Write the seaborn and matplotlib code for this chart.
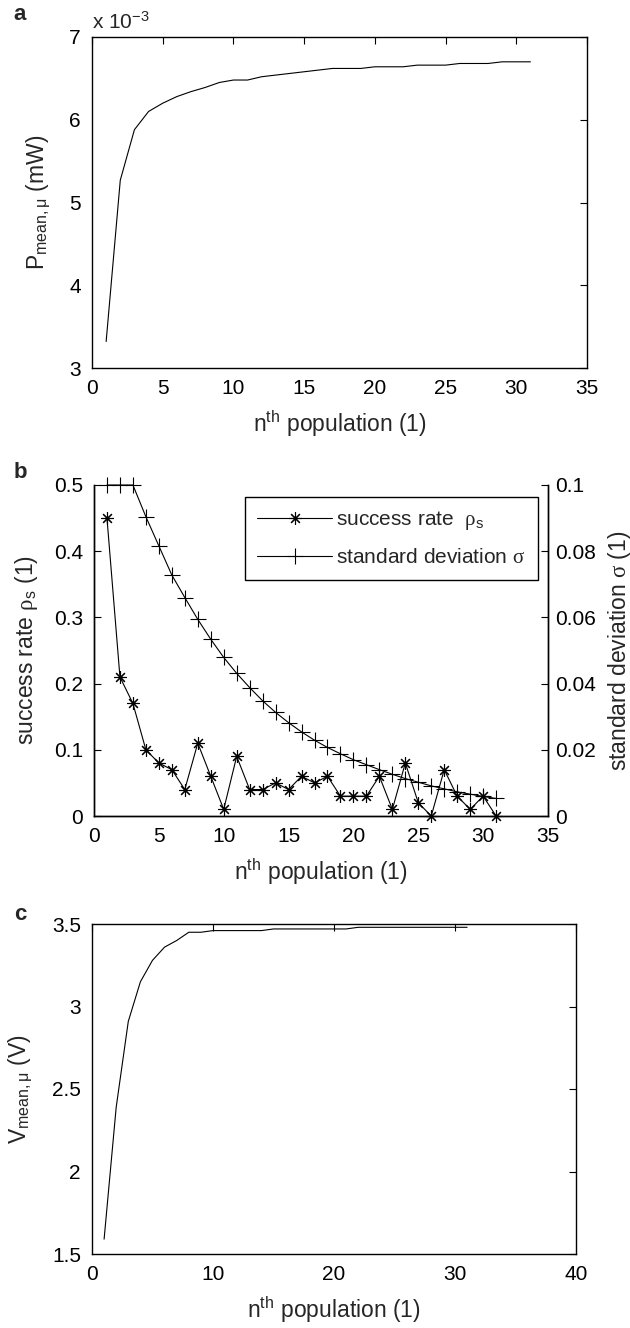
import matplotlib
matplotlib.use("Agg")
import matplotlib.pyplot as plt
import matplotlib.ticker as mticker
import seaborn as sns

# ── Data ─────────────────────────────────────────────────────────────────────
generation = list(range(1, 32))

# panel a: mean power, in units of 1e-3 mW
p_mean = [3.32, 5.27, 5.88, 6.10, 6.20, 6.28, 6.34, 6.39, 6.45, 6.48,
          6.48, 6.52, 6.54, 6.56, 6.58, 6.60, 6.62, 6.62, 6.62, 6.64,
          6.64, 6.64, 6.66, 6.66, 6.66, 6.68, 6.68, 6.68, 6.70, 6.70, 6.70]

# panel b: success rate (left axis) and standard deviation (right axis)
success_rate = [0.45, 0.21, 0.17, 0.10, 0.08, 0.07, 0.04, 0.11, 0.06, 0.01,
                0.09, 0.04, 0.04, 0.05, 0.04, 0.06, 0.05, 0.06, 0.03, 0.03,
                0.03, 0.06, 0.01, 0.08, 0.02, 0.00, 0.07, 0.03, 0.01, 0.03, 0.00]
std_dev = [0.100, 0.100, 0.100, 0.0904, 0.0816, 0.0728, 0.0660, 0.0594, 0.0534, 0.0479,
           0.0431, 0.0388, 0.0348, 0.0313, 0.0282, 0.0254, 0.0229, 0.0207, 0.0188, 0.0170,
           0.0155, 0.0140, 0.0126, 0.0113, 0.0102, 0.0091, 0.0082, 0.0073, 0.0066, 0.0059, 0.0053]

# panel c: mean voltage (V)
v_mean = [1.59, 2.39, 2.91, 3.15, 3.28, 3.36, 3.40, 3.45, 3.45, 3.46,
          3.46, 3.46, 3.46, 3.46, 3.47, 3.47, 3.47, 3.47, 3.47, 3.47,
          3.47, 3.48, 3.48, 3.48, 3.48, 3.48, 3.48, 3.48, 3.48, 3.48, 3.48]

XLABEL = r"n$^{\mathregular{th}}$ population (1)"

# ── Style ────────────────────────────────────────────────────────────────────
sns.set_theme(style="white")
plt.rcParams["font.family"] = ["Liberation Sans", "DejaVu Sans"]
plt.rcParams["mathtext.fontset"] = "custom"
plt.rcParams["mathtext.rm"] = "Liberation Sans"
plt.rcParams["mathtext.it"] = "Liberation Sans:italic"
plt.rcParams["mathtext.sf"] = "Liberation Serif"
plt.rcParams["axes.edgecolor"] = "black"
plt.rcParams["axes.linewidth"] = 1.0

TICK_FS = 15
LABEL_FS = 16.5
LINE_KW = dict(color="black", linewidth=0.8)
W, H = 630, 1328


def rect(left, top, right, bottom):
    return [left / W, 1 - bottom / H, (right - left) / W, (bottom - top) / H]


def style_box(ax):
    ax.tick_params(direction="in", length=5, width=0.8, top=True, right=True,
                   labelsize=TICK_FS, pad=8, colors="black")
    ax.yaxis.set_major_formatter(mticker.FormatStrFormatter("%g"))
    ax.xaxis.set_major_formatter(mticker.FormatStrFormatter("%g"))


fig = plt.figure(figsize=(W / 100, H / 100), dpi=100)

# ── Panel a ──────────────────────────────────────────────────────────────────
ax_a = fig.add_axes(rect(92, 37, 587, 368))
sns.lineplot(x=generation, y=p_mean, ax=ax_a, **LINE_KW)
ax_a.set_xlim(0, 35)
ax_a.set_ylim(3, 7)
ax_a.set_xticks(range(0, 36, 5))
ax_a.set_yticks(range(3, 8))
style_box(ax_a)
ax_a.set_xlabel(XLABEL, fontsize=LABEL_FS, labelpad=7)
ax_a.set_ylabel(r"P$_{\mathregular{mean,\mu}}$ (mW)", fontsize=LABEL_FS, labelpad=12)
ax_a.text(0, 1.012, r"x 10$^{\mathregular{-3}}$", transform=ax_a.transAxes,
          fontsize=TICK_FS, va="bottom", ha="left")

# ── Panel b ──────────────────────────────────────────────────────────────────
ax_b = fig.add_axes(rect(94, 485, 548, 816))
ax_b2 = ax_b.twinx()
sns.lineplot(x=generation, y=success_rate, ax=ax_b, marker=(8, 2, 0), markersize=9,
             markeredgecolor="black", markeredgewidth=0.8, clip_on=False,
             label=r"success rate  $\mathsf{\rho}_{\mathregular{s}}$", legend=False, **LINE_KW)
sns.lineplot(x=generation, y=std_dev, ax=ax_b2, marker="+", markersize=11,
             markeredgecolor="black", markeredgewidth=0.8, clip_on=False,
             label=r"standard deviation $\mathsf{\sigma}$", legend=False, **LINE_KW)
ax_b.set_xlim(0, 35)
ax_b.set_ylim(0, 0.5)
ax_b2.set_ylim(0, 0.1)
ax_b.set_xticks(range(0, 36, 5))
ax_b.set_yticks([0, 0.1, 0.2, 0.3, 0.4, 0.5])
ax_b2.set_yticks([0, 0.02, 0.04, 0.06, 0.08, 0.1])
for a in (ax_b, ax_b2):
    a.spines["top"].set_visible(False)
    a.yaxis.set_major_formatter(mticker.FormatStrFormatter("%g"))
ax_b.xaxis.set_major_formatter(mticker.FormatStrFormatter("%g"))
ax_b.tick_params(direction="in", length=5, width=0.8, top=False, right=False,
                 labelsize=TICK_FS, pad=8, colors="black")
ax_b2.tick_params(direction="in", length=5, width=0.8, labelsize=TICK_FS, pad=5,
                  colors="black")
ax_b.set_xlabel(XLABEL, fontsize=LABEL_FS, labelpad=7)
ax_b.set_ylabel(r"success rate $\mathsf{\rho}_{\mathregular{s}}$ (1)", fontsize=LABEL_FS, labelpad=10)
ax_b2.set_ylabel(r"standard deviation $\mathsf{\sigma}$ (1)", fontsize=LABEL_FS, labelpad=7)

handles = ax_b.get_lines()[:1] + ax_b2.get_lines()[:1]
leg = ax_b2.legend(handles, [h.get_label() for h in handles], loc="upper right",
                   bbox_to_anchor=(0.978, 0.964), fontsize=15, numpoints=1,
                   handlelength=3.6, handletextpad=0.2, borderpad=0.6, labelspacing=0.75,
                   borderaxespad=0, fancybox=False, framealpha=1, edgecolor="black")
leg.get_frame().set_linewidth(1.0)

# ── Panel c ──────────────────────────────────────────────────────────────────
ax_c = fig.add_axes(rect(92, 924, 576, 1254))
sns.lineplot(x=generation, y=v_mean, ax=ax_c, **LINE_KW)
ax_c.set_xlim(0, 40)
ax_c.set_ylim(1.5, 3.5)
ax_c.set_xticks(range(0, 41, 10))
ax_c.set_yticks([1.5, 2, 2.5, 3, 3.5])
style_box(ax_c)
ax_c.set_xlabel(XLABEL, fontsize=LABEL_FS, labelpad=7)
ax_c.set_ylabel(r"V$_{\mathregular{mean,\mu}}$ (V)", fontsize=LABEL_FS, labelpad=12)

# ── Panel letters ────────────────────────────────────────────────────────────
for letter, ypix in (("a", 15), ("b", 472), ("c", 915)):
    fig.text(20 / W, 1 - ypix / H, letter, fontsize=16, fontweight="bold",
             ha="center", va="center")

fig.savefig("out.png", dpi=100)
